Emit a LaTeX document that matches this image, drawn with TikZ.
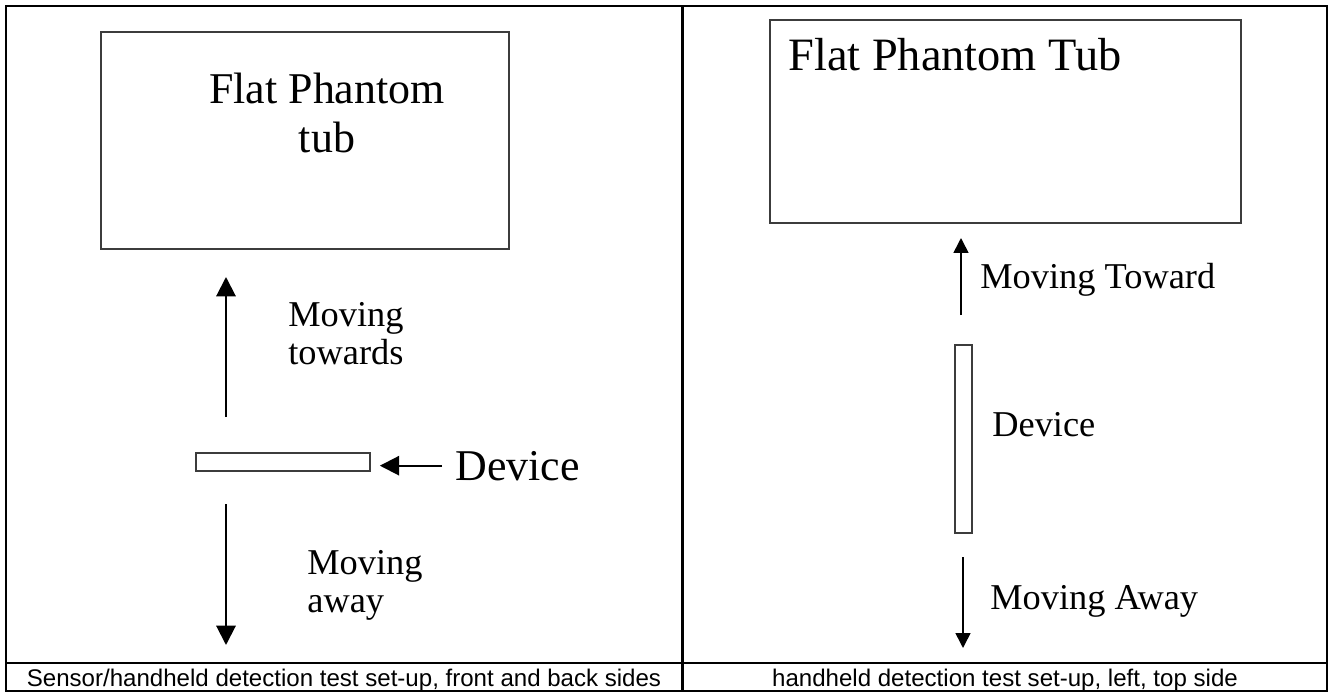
\documentclass[tikz,border=0pt]{standalone}
\usepackage{fontspec}
\setmainfont{Liberation Serif}
\newfontfamily\capfont{Liberation Sans}
\usetikzlibrary{arrows.meta,positioning}
\definecolor{boxgray}{RGB}{60,60,60}
\tikzset{
  frame/.style={
    draw=black,
    line width=1.15pt
  },
  tub box/.style={
    rectangle,
    draw=boxgray,
    line width=1.1pt,
    inner sep=0pt
  },
  dev box/.style={
    rectangle,
    draw=boxgray,
    line width=1pt,
    inner sep=0pt
  },
  big lbl/.style={
    inner sep=0pt,
    font=\fontsize{25}{27.8}\selectfont
  },
  mid lbl/.style={
    inner sep=0pt,
    font=\fontsize{20.7}{21.5}\selectfont
  },
  cap lbl/.style={
    inner sep=0pt,
    font=\capfont\fontsize{13.7}{16}\selectfont
  },
  move arrow/.style={
    -{Triangle[width=11pt,length=11pt]},
    line width=1.15pt
  },
  thin arrow/.style={
    -{Triangle[width=8.5pt,length=8.5pt]},
    line width=0.9pt
  }
}

\begin{document}
\begin{tikzpicture}[x=0.02cm, y=-0.02cm]
  \useasboundingbox (0,0) rectangle (1330,693);

  % Table frame
  \draw[frame] (6,6) rectangle (1327,691);
  \draw[frame] (682.5,6) -- (682.5,691);
  \draw[frame] (6,663) -- (1327,663);

  % Left panel
  \node[tub box, minimum width=8.16cm, minimum height=4.34cm] (ltub) at (305,140.5) {};
  \node[big lbl, align=center, anchor=base] (ltubtxt) at (327,152) {Flat Phantom\\tub};
  \node[dev box, minimum width=3.48cm, minimum height=0.36cm] (ldev) at (283,462) {};
  \node[big lbl, anchor=base west] (ldevtxt) at (455,480) {Device};
  \node[mid lbl, align=left, anchor=base west] (ltoward) at (288,364) {Moving\\towards};
  \node[mid lbl, align=left, anchor=base west] (laway) at (307,612) {Moving\\away};
  \coordinate (lupfrom) at (226,417);
  \coordinate (lupto) at (226,277);
  \coordinate (ldownfrom) at (226,504);
  \coordinate (ldownto) at (226,645);
  \draw[move arrow] (lupfrom) -- (lupto);
  \draw[move arrow] (ldownfrom) -- (ldownto);
  \draw[move arrow, shorten <=0.26cm, shorten >=0.18cm] (ldevtxt.west) -- (ldevtxt.west -| ldev.east);

  % Right panel
  \node[tub box, minimum width=9.42cm, minimum height=4.06cm] (rtub) at (1005.5,121.5) {};
  \node[big lbl, font=\fontsize{26.4}{30}\selectfont, anchor=base west] (rtubtxt) at (788,71) {Flat Phantom Tub};
  \node[dev box, minimum width=0.34cm, minimum height=3.76cm] (rdev) at (963.5,439) {};
  \node[mid lbl, anchor=base west] (rdevtxt) at (992,436) {Device};
  \node[mid lbl, anchor=base west] (rtoward) at (980,288) {Moving Toward};
  \node[mid lbl, anchor=base west] (raway) at (990,609) {Moving Away};
  \coordinate (rupfrom) at (961,315);
  \coordinate (rupto) at (961,238);
  \coordinate (rdownfrom) at (963,557);
  \coordinate (rdownto) at (963,648);
  \draw[thin arrow] (rupfrom) -- (rupto);
  \draw[thin arrow] (rdownfrom) -- (rdownto);

  % Captions
  \node[cap lbl, anchor=base] (lcap) at (344,686) {Sensor/handheld detection test set-up, front and back sides};
  \node[cap lbl, anchor=base] (rcap) at (1005,686) {handheld detection test set-up, left, top side};
\end{tikzpicture}
\end{document}
